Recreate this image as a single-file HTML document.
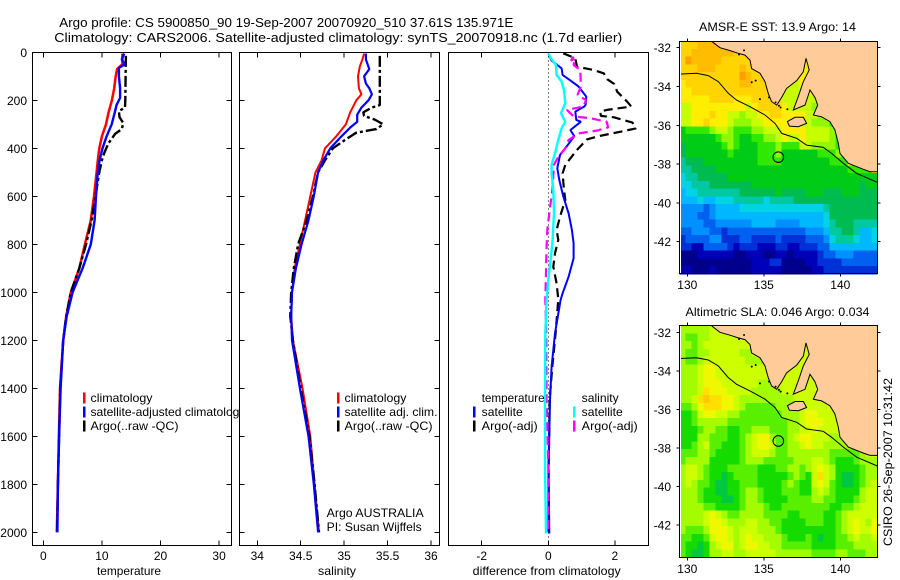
<!DOCTYPE html>
<html lang="en">
<head>
<meta charset="utf-8">
<title>Argo profile chart</title>
<style>
html,body{margin:0;padding:0;background:#fff;}
svg{display:block;font-family:"Liberation Sans",sans-serif;font-size:12px;fill:#000;}
</style>
</head>
<body>
<svg id="chart" width="900" height="580" viewBox="0 0 900 580" xmlns="http://www.w3.org/2000/svg">
<rect x="0" y="0" width="900" height="580" fill="#fff"/>
<text x="59.3" y="27" font-size="13" textLength="454" lengthAdjust="spacingAndGlyphs">Argo profile: CS 5900850_90 19-Sep-2007 20070920_510 37.61S 135.971E</text>
<text x="54.3" y="42" font-size="13" textLength="568" lengthAdjust="spacingAndGlyphs">Climatology: CARS2006. Satellite-adjusted climatology: synTS_20070918.nc (1.7d earlier)</text>
<text transform="translate(892,546) rotate(-90)" textLength="168" lengthAdjust="spacingAndGlyphs">CSIRO 26-Sep-2007 10:31:42</text>
</svg>
<script>
/* ---------- profile data: depth (m) and value ---------- */
const depthTicks = [0,200,400,600,800,1000,1200,1400,1600,1800,2000];
const tempTicks = [0,10,20,30];
const salTicks = [34,34.5,35,35.5,36];
const diffTicks = [-2,0,2];

const tClimDepth = [5,50,70,100,150,200,250,300,350,400,450,500,600,700,800,900,1000,1100,1200,1400,1600,1800,2000];
const tClimValue = [13.5,13.5,12.6,12.35,12.1,11.7,11.15,10.7,10,9.56,9.3,9.1,8.65,8.1,7.1,6.15,4.7,3.9,3.4,2.85,2.67,2.5,2.3];
const tSatDepth = [5,30,50,65,100,150,190,220,250,300,350,400,450,500,600,700,800,900,1000,1100,1200,1400,1600,1800,2000];
const tSatValue = [13.8,13.4,13.9,12.9,12.9,13.1,13.1,12.5,12.2,11.67,10.8,10.1,9.6,9.3,9,8.75,8.1,6.7,5,4,3.4,2.95,2.7,2.5,2.4];
const tArgoDepth = [15,100,200,230,245,270,295,320,340,380,420,450,500,600,700,800,900,1000,1100,1200,1400,1600,1800,2000];
const tArgoValue = [14.1,14.05,14,13.95,12.9,13,13.65,13.4,12.25,11.1,10.4,10,9.56,8.9,8.25,7.3,6.15,4.7,3.9,3.4,2.9,2.7,2.5,2.35];

const sClimDepth = [5,30,60,100,150,175,200,250,300,350,400,450,500,600,700,800,900,1000,1100,1200,1400,1600,1800,2000];
const sClimValue = [35.23,35.21,35.18,35.16,35.17,35.2,35.14,35.07,35.02,34.91,34.78,34.74,34.67,34.61,34.55,34.49,34.43,34.4,34.39,34.41,34.52,34.61,34.66,34.71];
const sSatDepth = [5,30,50,70,100,130,150,175,200,230,260,290,310,350,400,450,500,600,700,800,900,1000,1100,1200,1400,1600,1800,2000];
const sSatValue = [35.25,35.25,35.27,35.29,35.23,35.25,35.29,35.32,35.28,35.2,35.15,35.15,35.08,34.97,34.84,34.76,34.7,34.65,34.59,34.51,34.445,34.4,34.39,34.4,34.49,34.59,34.65,34.7];
const sArgoDepth = [15,100,220,230,250,265,280,300,320,335,360,400,450,500,600,700,800,900,1000,1100,1200,1400,1600,1800,2000];
const sArgoValue = [35.41,35.41,35.41,35.32,35.22,35.23,35.35,35.45,35.37,35.14,35.03,34.87,34.78,34.7,34.64,34.57,34.47,34.42,34.39,34.38,34.41,34.5,34.6,34.66,34.71];

const dtSatDepth = [4,35,53,67,94,122,143,185,219,226,247,282,289,324,349,400,428,483,532,601,671,740,796,858,935,1004,1032,1171,1310,1449,1588,1727,2005];
const dtSatValue = [0,0.1,0.27,0.4,0.43,0.71,0.91,1.14,1.12,1.08,0.81,0.84,0.98,0.66,0.78,0.51,0.35,0.27,0.33,0.45,0.61,0.71,0.76,0.76,0.61,0.43,0.37,0.2,0.1,0.05,0.03,0.01,0.03];
const dtArgoDepth = [4,25,60,74,88,112,132,164,206,226,240,247,265,271,293,317,331,349,363,407,469,504,574,615,685,740,782,837,893,963,1029,1171,1310,1449,1588,1727,2000];
const dtArgoValue = [0.45,0.81,0.86,1.37,1.67,1.77,1.98,2.07,2.37,2.49,1.76,1.56,1.58,1.97,2.53,2.63,2.17,1.52,1.16,0.86,0.51,0.43,0.47,0.51,0.35,0.25,0.3,0.2,0.15,0.25,0.3,0.22,0.12,0.04,0.03,0.01,0.01];
const dsSatDepth = [4,29,53,94,122,157,212,254,289,317,365,421,469,504,574,671,782,851,949,1029,1171,1449,1727,2005];
const dsSatValue = [0,0.1,0.23,0.25,0.4,0.47,0.51,0.38,0.51,0.4,0.3,0.2,0.1,0.1,0.15,0.17,0.13,0.08,0,-0.05,-0.09,-0.1,-0.1,-0.07];
const dsArgoDepth = [18,35,25,53,74,143,178,199,226,240,261,268,275,289,313,326,338,365,400,435,469,574,671,740,810,921,1029,1171,1449,1727,1866,2005];
const dsArgoValue = [0.76,0.68,0.81,0.76,0.96,0.98,0.88,1.13,1.06,0.56,0.71,0.81,1.27,1.75,1.8,1.47,0.91,0.61,0.51,0.3,0.17,0.12,0.03,-0.03,-0.05,-0.07,-0.09,-0.06,-0.05,0,0,0];

/* ---------- map data: colour level per grid cell, north to south ---------- */
const sstGrid = [
[14,14,14,15,15,15,15,15,15,15,15,15,15,15,15,15,15,13,13,13,13,13,13,13,13,13,13,13,13,13,13,13,13],
[14,14,15,15,15,15,15,15,15,14,14,14,14,14,14,14,14,13,13,13,13,13,13,13,13,13,13,13,13,13,13,13,13],
[14,16,15,15,15,15,15,14,14,14,14,14,14,14,14,14,14,13,13,13,13,13,13,13,13,13,13,13,13,13,13,13,13],
[14,14,14,15,15,15,14,14,14,14,15,14,14,14,14,14,14,13,13,13,13,13,13,13,13,13,13,13,13,13,13,13,13],
[14,14,14,14,14,14,14,14,14,14,16,15,14,14,14,14,14,13,13,13,13,13,13,13,13,13,13,13,13,13,13,13,13],
[13,14,14,14,14,14,14,14,14,14,15,15,14,14,14,14,14,12,12,12,13,13,13,13,13,13,13,13,13,13,13,13,13],
[13,13,14,14,14,14,14,14,14,14,14,14,14,14,14,14,14,12,12,12,12,13,14,13,13,13,13,13,13,13,13,13,13],
[13,13,13,13,13,14,14,14,14,13,13,13,14,14,14,14,14,12,12,12,12,12,12,13,13,13,13,13,13,13,13,13,13],
[12,12,13,13,13,13,13,13,13,13,13,12,13,14,14,14,14,13,12,12,12,12,11,11,13,13,13,13,13,13,13,13,13],
[12,12,13,13,13,14,13,13,12,12,11,12,12,13,13,14,14,13,13,13,13,12,12,11,11,11,13,13,13,13,13,13,13],
[12,12,13,13,14,13,13,13,12,11,11,11,12,12,13,13,13,13,13,12,12,12,11,11,11,10,10,13,13,13,13,13,13],
[9,10,10,10,10,11,12,12,11,10,10,10,11,11,12,12,12,13,13,13,13,12,12,12,12,11,10,10,13,13,13,13,13],
[9,9,9,9,9,9,10,11,11,10,9,9,10,10,11,11,12,13,12,12,13,12,12,12,12,11,10,10,10,13,13,13,13],
[8,9,9,9,9,9,9,10,11,10,9,9,9,10,10,10,11,10,10,10,12,12,11,11,11,11,10,10,10,10,13,13,13],
[8,9,9,9,9,9,9,9,10,9,9,9,9,10,10,10,11,9,9,9,9,9,9,10,10,10,11,10,10,10,10,10,13],
[7,8,8,8,9,9,9,9,9,9,9,9,9,10,10,10,10,9,9,9,9,9,9,9,9,10,10,10,13,13,13,13,13],
[7,7,8,8,8,8,9,9,9,9,9,9,9,9,9,9,9,9,9,9,9,9,9,9,9,9,9,9,10,10,10,10,13],
[6,7,7,8,8,8,8,8,9,9,9,9,9,9,9,9,9,9,9,9,9,9,9,9,9,9,9,9,9,9,9,9,9],
[6,6,7,7,7,8,8,8,8,8,8,8,9,9,9,9,9,9,9,9,9,9,9,9,9,9,9,9,9,9,8,9,9],
[5,6,6,7,7,7,7,7,7,7,8,8,8,8,8,8,9,8,8,8,8,9,9,9,8,8,8,9,9,9,8,8,8],
[5,5,5,6,5,5,6,6,6,7,7,7,7,7,6,7,7,7,7,8,8,8,8,8,8,8,8,8,8,8,8,8,8],
[4,4,4,4,3,4,5,5,5,5,6,6,6,6,6,6,6,6,6,6,6,6,6,6,7,8,8,8,8,8,8,8,8],
[4,4,4,3,3,4,5,5,5,5,5,5,5,5,5,5,5,5,5,5,5,5,5,5,6,8,8,8,8,8,8,8,8],
[4,4,4,4,3,3,4,4,4,4,4,4,5,5,5,5,4,4,4,4,5,5,5,5,6,7,8,8,8,7,7,7,7],
[3,3,4,4,4,3,3,2,3,3,3,3,3,3,3,3,3,3,3,3,3,4,4,4,5,7,7,8,8,7,5,5,6],
[2,3,3,3,3,4,4,2,2,2,3,3,2,2,2,2,3,2,2,2,2,3,3,3,4,6,7,7,7,6,5,5,6],
[2,2,1,1,3,3,3,3,2,1,2,2,2,1,1,1,2,2,1,1,2,2,2,3,3,5,5,5,5,5,5,5,5],
[0,0,0,1,1,1,1,1,1,0,0,1,1,1,0,0,1,1,0,1,1,1,1,2,3,3,4,4,4,3,3,3,3],
[0,0,0,0,0,0,0,0,0,0,0,0,1,1,1,2,2,0,0,0,0,1,1,2,2,2,2,3,3,3,3,3,3],
[1,1,0,0,0,1,0,0,0,0,0,0,1,1,1,1,1,0,0,0,0,0,1,1,2,2,2,2,2,2,2,2,2]
];
const slaGrid = [
[11,11,11,11,11,12,12,12,12,12,12,12,12,12,12,12,12,12,12,12,12,12,12,12,12,12,12,12,12,12,12,12,12],
[11,10,10,11,11,12,12,12,12,12,12,12,12,12,12,12,12,12,12,12,12,12,12,12,12,12,12,12,12,12,12,12,12],
[11,11,10,11,12,12,12,12,12,12,12,12,12,12,12,12,12,12,12,12,12,12,12,12,12,12,12,12,12,12,12,12,12],
[11,10,10,11,11,12,12,12,12,12,11,11,12,12,12,12,12,12,12,12,12,12,12,12,12,12,12,12,12,12,12,12,12],
[11,10,10,11,12,12,12,12,12,12,12,11,11,11,12,12,12,12,12,12,12,12,12,12,12,12,12,12,12,12,12,12,12],
[11,11,11,12,13,13,12,12,12,12,12,12,12,12,12,12,12,12,12,12,12,12,12,12,12,12,12,12,12,12,12,12,12],
[11,11,11,12,13,13,12,12,12,12,12,12,12,12,12,12,12,12,12,12,12,12,12,12,12,12,12,12,12,12,12,12,12],
[11,11,11,12,13,13,13,12,12,12,12,12,12,11,11,11,12,12,12,12,12,12,12,12,12,12,12,12,12,12,12,12,12],
[11,11,11,12,14,13,13,13,12,12,12,12,11,11,11,11,11,12,12,12,12,12,12,12,12,12,12,12,12,12,12,12,12],
[11,11,12,14,15,14,14,13,13,12,11,11,11,11,11,11,11,11,11,12,12,12,12,12,12,12,12,12,12,12,12,12,12],
[10,10,11,13,14,14,14,13,13,12,11,10,10,10,10,10,11,11,11,11,12,12,12,12,12,12,12,12,12,12,12,12,12],
[9,9,10,12,13,13,12,12,11,11,10,10,10,10,10,10,10,11,11,11,12,13,13,12,12,12,12,12,12,12,12,12,12],
[9,9,10,11,11,11,11,11,10,10,10,10,10,10,10,10,10,10,11,11,12,13,13,13,12,12,12,12,12,12,12,12,12],
[9,9,9,10,11,11,10,10,9,9,10,10,11,11,11,10,10,10,11,11,12,12,13,12,12,12,12,11,12,12,12,12,12],
[9,9,9,11,11,10,10,10,9,9,10,11,12,13,13,11,10,10,11,12,13,13,12,12,12,11,11,11,11,12,12,12,12],
[9,9,10,11,12,10,10,9,9,9,10,11,12,13,13,12,10,10,11,11,12,13,12,12,11,11,11,11,11,11,12,12,12],
[10,10,10,11,11,10,9,9,9,9,10,11,12,12,12,11,10,10,11,11,11,11,11,11,11,10,10,10,10,10,11,12,12],
[10,11,11,11,11,9,9,9,9,9,10,11,11,11,10,10,10,10,10,11,11,11,12,12,11,10,9,9,9,10,11,11,11],
[11,12,12,11,10,9,9,9,10,10,10,10,10,9,9,9,10,10,11,11,10,11,12,13,12,11,9,9,9,9,10,11,11],
[11,12,12,11,10,9,9,8,9,10,10,10,10,9,9,9,9,9,10,11,10,9,12,14,12,11,9,8,8,9,10,11,11],
[11,12,11,10,10,9,8,8,9,9,10,10,10,9,9,9,9,10,11,10,9,9,12,13,12,10,9,8,8,9,10,11,12],
[11,11,11,10,9,9,8,8,9,9,10,11,11,10,9,9,9,10,10,10,9,9,11,12,11,10,9,9,9,9,11,12,12],
[11,11,11,10,9,9,9,8,8,9,10,11,11,10,9,9,9,9,10,10,10,10,11,11,10,10,9,9,9,10,11,12,12],
[11,11,11,11,10,10,9,9,9,9,10,11,11,11,10,9,9,10,10,10,10,10,10,10,10,9,9,10,10,11,12,12,12],
[11,11,11,11,12,13,12,11,10,10,11,11,11,11,10,10,10,10,9,9,10,10,10,10,9,9,10,11,12,12,12,12,12],
[11,11,11,11,12,13,13,12,11,11,11,12,12,11,11,10,10,9,9,9,9,10,10,10,9,9,10,11,12,13,12,11,13],
[11,10,10,10,11,13,13,13,12,11,12,12,12,11,11,11,10,9,9,9,9,9,9,9,9,9,10,11,12,13,12,12,13],
[10,10,9,9,10,12,13,13,12,11,12,13,12,12,11,11,11,10,9,9,9,10,9,8,9,9,10,10,11,12,11,11,12],
[10,9,9,8,9,11,12,13,13,11,12,13,13,12,12,11,11,10,10,10,10,10,9,9,9,9,10,10,10,11,11,11,11],
[10,9,8,8,9,11,11,12,12,11,11,12,12,12,12,12,11,11,11,11,11,11,10,10,10,10,11,11,10,10,10,11,11]
];
const lonTicks = [130,135,140];
const latTicks = [-32,-34,-36,-38,-40,-42];
const coastLon = [131.59,132.14,132.79,133.33,133.77,134.1,134.2,134.75,135.08,135.29,135.51,135.84,136.17,136.49,137.15,137.58,137.76,137.97,137.58,137.25,136.93,137.69,138.02,138.34,138.52,138.24,138.78,139.32,139.65,139.87,139.98,140.52,141.51,141.94,142.42,142.42];
const coastLat = [-31.67,-32,-32.15,-32.29,-32.38,-32.64,-33.07,-33.32,-33.75,-34.35,-34.78,-34.96,-34.56,-34.1,-33.7,-33.24,-32.55,-33.15,-33.75,-34.53,-35.21,-34.96,-34.18,-34.56,-34.96,-35.47,-35.56,-35.81,-36.24,-36.93,-37.45,-37.96,-38.27,-38.39,-38.39,-31.67];
const islandLon = [136.54,137.04,137.58,137.8,137.25,136.67];
const islandLat = [-35.81,-35.59,-35.59,-35.9,-36.07,-36.04];
const isletLon = [134.21,134.47,134.75,135.34,135.99,136.54,136.1,133.38,133.71,135.77];
const isletLat = [-33.78,-33.7,-34.65,-34.56,-34.99,-35.17,-35.08,-32.35,-32.14,-34.82];
const isobathLon = [129.48,130.61,131.37,132.03,132.68,133.22,134.1,135.08,135.73,136.17,137.15,137.8,138.89,139.43,140.2,141.07,142.42];
const isobathLat = [-33.36,-33.32,-33.44,-33.75,-34.35,-34.7,-35.04,-35.47,-35.9,-36.42,-36.67,-37.02,-37.14,-37.45,-37.96,-38.48,-38.94];
const argoLon = 135.95;
const argoLat = -37.64;

const sstPalette = ['#00008c','#0000b8','#0030d8','#0060f0','#0090ff','#00b8ff','#00d4e4','#00c8a0','#00bc50','#00cc18','#30e800','#90f800','#c8ff00','#ffee00','#ffd400','#ffbc00','#ffa000'];
const slaPalette = ['#00008c','#0000b8','#0030d8','#0060f0','#0090ff','#00b8ff','#00d4e4','#00c8a0','#00c840','#14dc00','#58f000','#a4fc00','#ccff00','#f0f800','#ffe000','#ffc800','#ffa000'];

/* ---------- helpers ---------- */
const root = document.getElementById('chart');
const NS = 'http://www.w3.org/2000/svg';
function make(tag, attrs, parent) {
  const el = document.createElementNS(NS, tag);
  for (const k in attrs) el.setAttribute(k, attrs[k]);
  (parent || root).appendChild(el);
  return el;
}
function drawText(name, str, x, y, anchor, len) {
  const el = make('text', {x: x, y: y, 'text-anchor': anchor || 'start'});
  if (len) { el.setAttribute('textLength', len); el.setAttribute('lengthAdjust', 'spacingAndGlyphs'); }
  el.textContent = str;
  
  
  return el;
}
function drawLine(name, x1, y1, x2, y2, extra) {
  const el = make('line', Object.assign({x1: x1, y1: y1, x2: x2, y2: y2, stroke: '#000', 'stroke-width': 1, 'shape-rendering': 'crispEdges'}, extra || {}));
  
  
  return el;
}

/* ---------- profile panels ---------- */
const plotTop = 52.5, plotBottom = 545.5;
function yDepth(d) { return 52.3 + d * 0.24; }

function makePanel(pName, left, right, xOf, ticks, xLabel, xLabelLen, hasYTicks, hasYLabels) {
  const bg = make('rect', {x: left, y: plotTop, width: right - left, height: plotBottom - plotTop, fill: '#fff', stroke: '#000', 'stroke-width': 1, 'shape-rendering': 'crispEdges'});
  
  
  ticks.forEach(function (t) {
    const x = xOf(t);
    drawLine(pName + '-x-tick-top', x, plotTop, x, plotTop + 5);
    drawLine(pName + '-x-tick-bottom', x, plotBottom, x, plotBottom - 5);
    drawText(pName + '-x-tick-label', String(t), x, 560, 'middle');
  });
  if (hasYTicks) {
    depthTicks.forEach(function (d) {
      const y = yDepth(d);
      drawLine(pName + '-y-tick-left', left, y, left + 5, y);
      drawLine(pName + '-y-tick-right', right, y, right - 5, y);
      if (hasYLabels) drawText(pName + '-y-tick-label', String(d), 27, y + 4.5, 'end');
    });
  }
  drawText(pName + '-x-axis-title', xLabel, (xLabel === 'temperature' ? 129 : xLabel === 'salinity' ? 337 : 546.7), 575, 'middle', xLabelLen);
}
function drawSeries(name, depths, values, xOf, color, width, dash) {
  const pts = depths.map(function (d, i) { return xOf(values[i]).toFixed(1) + ',' + yDepth(d).toFixed(1); }).join(' ');
  const el = make('polyline', {points: pts, fill: 'none', stroke: color, 'stroke-width': width, 'stroke-linejoin': 'bevel'});
  if (dash) el.setAttribute('stroke-dasharray', dash);
  
  
}
function legendBar(name, x, y, color) {
  const el = make('rect', {x: x - 1, y: y - 5.5, width: 2.5, height: 11, fill: color});
  
  
}

/* temperature */
function xTemp(v) { return 43.3 + v * 5.86; }
makePanel('temperature', 32.5, 231.5, xTemp, tempTicks, 'temperature', 64, true, true);
drawSeries('temperature-climatology-line', tClimDepth, tClimValue, xTemp, '#ff0000', 2.5);
drawSeries('temperature-argo-line', tArgoDepth, tArgoValue, xTemp, '#000', 2.4, '11 3 3 3');
drawSeries('temperature-satellite-line', tSatDepth, tSatValue, xTemp, '#0000ff', 2.4);
legendBar('temperature-legend-swatch-climatology', 84, 398, '#ff0000');
legendBar('temperature-legend-swatch-satellite', 84, 412, '#0000ff');
legendBar('temperature-legend-swatch-argo', 84, 426, '#000');
drawText('temperature-legend-climatology', 'climatology', 90.5, 402, 'start', 62);
drawText('temperature-legend-satellite', 'satellite-adjusted climatology', 90.5, 416, 'start', 155);
drawText('temperature-legend-argo', 'Argo(..raw -QC)', 90.5, 430, 'start', 88);

/* salinity */
function xSal(v) { return 257.3 + (v - 34) * 86.85; }
makePanel('salinity', 239.5, 439.5, xSal, salTicks, 'salinity', 38, true, false);
drawSeries('salinity-climatology-line', sClimDepth, sClimValue, xSal, '#ff0000', 2);
drawSeries('salinity-argo-line', sArgoDepth, sArgoValue, xSal, '#000', 2.4, '11 3 3 3');
drawSeries('salinity-satellite-line', sSatDepth, sSatValue, xSal, '#0000ff', 2.2);
legendBar('salinity-legend-swatch-climatology', 338, 398, '#ff0000');
legendBar('salinity-legend-swatch-satellite', 338, 412, '#0000ff');
legendBar('salinity-legend-swatch-argo', 338, 426, '#000');
drawText('salinity-legend-climatology', 'climatology', 344.5, 402, 'start', 62);
drawText('salinity-legend-satellite', 'satellite adj. clim.', 344.5, 416, 'start', 93);
drawText('salinity-legend-argo', 'Argo(..raw -QC)', 344.5, 430, 'start', 88);
drawText('argo-country-note', 'Argo AUSTRALIA', 326.7, 517, 'start', 97);
drawText('argo-pi-note', 'PI: Susan Wijffels', 326.7, 531, 'start', 95);

/* difference */
function xDiff(v) { return 548.3 + v * 33.3; }
makePanel('difference', 448.5, 648.5, xDiff, diffTicks, 'difference from climatology', 148, false, false);
drawLine('difference-zero-line', xDiff(0), plotTop, xDiff(0), plotBottom, {'stroke-dasharray': '1 3'});
drawSeries('difference-temperature-argo-line', dtArgoDepth, dtArgoValue, xDiff, '#000', 2.2, '9 5');
drawSeries('difference-temperature-satellite-line', dtSatDepth, dtSatValue, xDiff, '#0000ff', 2);
drawSeries('difference-salinity-argo-line', dsArgoDepth, dsArgoValue, xDiff, '#ff00ff', 2.2, '9 5');
drawSeries('difference-salinity-satellite-line', dsSatDepth, dsSatValue, xDiff, '#00ffff', 2.4);
drawText('difference-legend-temperature-header', 'temperature', 481.7, 402, 'start', 63);
legendBar('difference-legend-swatch-temperature-satellite', 474, 412, '#0000ff');
legendBar('difference-legend-swatch-temperature-argo', 474, 426, '#000');
drawText('difference-legend-temperature-satellite', 'satellite', 481.7, 416, 'start', 41);
drawText('difference-legend-temperature-argo', 'Argo(-adj)', 481.7, 430, 'start', 56);
drawText('difference-legend-salinity-header', 'salinity', 581.7, 402, 'start', 37);
legendBar('difference-legend-swatch-salinity-satellite', 574, 412, '#00ffff');
legendBar('difference-legend-swatch-salinity-argo', 574, 426, '#ff00ff');
drawText('difference-legend-salinity-satellite', 'satellite', 581.7, 416, 'start', 41);
drawText('difference-legend-salinity-argo', 'Argo(-adj)', 581.7, 430, 'start', 56);

/* ---------- maps ---------- */
const lonMin = 129.48, lonMax = 142.42, latMax = -31.66, latMin = -43.66;
function makeMap(mName, grid, palette, top, bottom, y32, pxPerLat, title, titleLen, titleY, lonLabelY) {
  const left = 679.5, right = 877.5;
  function xLon(v) { return 687.3 + (v - 130) * 15.3; }
  function yLat(v) { return y32 + (-32 - v) * pxPerLat; }
  const nRows = grid.length, nCols = grid[0].length;
  const dLon = (lonMax - lonMin) / nCols, dLat = (latMax - latMin) / nRows;
  grid.forEach(function (row, r) {
    row.forEach(function (level, c) {
      const x0 = xLon(lonMin + c * dLon), x1 = xLon(lonMin + (c + 1) * dLon);
      const y0 = yLat(latMax - r * dLat), y1 = yLat(latMax - (r + 1) * dLat);
      const cell = make('rect', {x: x0.toFixed(2), y: y0.toFixed(2), width: (x1 - x0 + 0.4).toFixed(2), height: (y1 - y0 + 0.4).toFixed(2), fill: palette[level], 'shape-rendering': 'crispEdges'});
      
      
    });
  });
  function pts(lons, lats) { return lons.map(function (v, i) { return xLon(v).toFixed(1) + ',' + yLat(lats[i]).toFixed(1); }).join(' '); }
  const land = make('polygon', {points: pts(coastLon, coastLat), fill: '#ffcc99', stroke: 'none'});
  
  
  const coast = make('polyline', {points: pts(coastLon.slice(0, -1), coastLat.slice(0, -1)), fill: 'none', stroke: '#000', 'stroke-width': 1});
  
  
  const island = make('polygon', {points: pts(islandLon, islandLat), fill: '#ffcc99', stroke: '#000', 'stroke-width': 1});
  
  
  isletLon.forEach(function (v, i) {
    const islet = make('circle', {cx: xLon(v), cy: yLat(isletLat[i]), r: 1, fill: '#000'});
    
    
  });
  const iso = make('polyline', {points: pts(isobathLon, isobathLat), fill: 'none', stroke: '#000', 'stroke-width': 1});
  
  
  const marker = make('circle', {cx: xLon(argoLon), cy: yLat(argoLat), r: 5.3, fill: 'none', stroke: '#000', 'stroke-width': 1});
  
  
  const strip = make('rect', {x: 680, y: top, width: 1.2, height: bottom - top, fill: '#fff', 'shape-rendering': 'crispEdges'});
  
  
  const frame = make('rect', {x: left, y: top, width: right - left, height: bottom - top, fill: 'none', stroke: '#000', 'stroke-width': 1, 'shape-rendering': 'crispEdges'});
  
  
  lonTicks.forEach(function (t) {
    const x = xLon(t);
    drawLine(mName + '-lon-tick-top', x, top, x, top - 3);
    drawLine(mName + '-lon-tick-bottom', x, bottom, x, bottom + 3);
    drawText(mName + '-lon-tick-label', String(t), x, lonLabelY, 'middle');
  });
  latTicks.forEach(function (t) {
    const y = yLat(t);
    drawLine(mName + '-lat-tick-left', left, y, left - 3, y);
    drawLine(mName + '-lat-tick-right', right, y, right + 3, y);
    drawText(mName + '-lat-tick-label', String(t), 671, y + 4.5, 'end');
  });
  drawText(mName + '-title', title, 777.5, titleY, 'middle', titleLen);
}
makeMap('sst-map', sstGrid, sstPalette, 41.5, 273.5, 47.7, 19.4, 'AMSR-E SST: 13.9 Argo: 14', 157, 31, 289);
makeMap('sla-map', slaGrid, slaPalette, 325.5, 557.5, 332.3, 19.27, 'Altimetric SLA: 0.046 Argo: 0.034', 184, 316, 573);
</script>
</body>
</html>
